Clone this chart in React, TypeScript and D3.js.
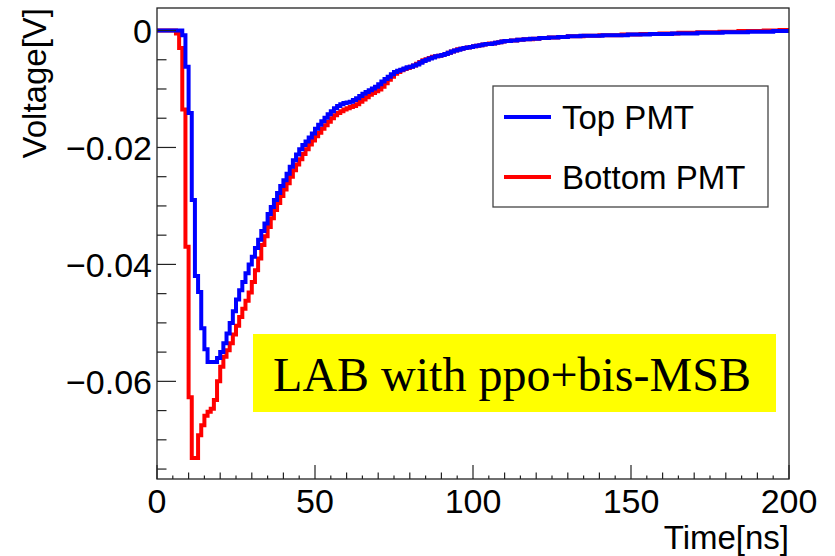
import React from "react";
import * as d3 from "d3";

// Time bins: 1 ns wide, 0..200 ns
const binStart = 0;
const binWidth = 1;

const topPMT: number[] = [
  0, 0, 0, 0, 0, 0, 0, 0, -0.0008, -0.0062,
  -0.0141, -0.029, -0.0420, -0.0447, -0.0509, -0.0545, -0.0567, -0.0567, -0.0567, -0.0560,
  -0.0550, -0.0535, -0.0518, -0.0500, -0.0480, -0.0460, -0.0444, -0.0430, -0.0415, -0.0400,
  -0.0387, -0.0372, -0.0358, -0.0343, -0.0330, -0.0314, -0.0302, -0.0290, -0.0278, -0.0266,
  -0.0256, -0.0245, -0.0233, -0.0222, -0.0212, -0.0203, -0.0196, -0.0190, -0.0183, -0.0176,
  -0.0168, -0.0161, -0.0155, -0.0149, -0.0143, -0.0138, -0.0133, -0.0129, -0.0126, -0.0124,
  -0.0123, -0.0122, -0.0119, -0.0116, -0.0112, -0.0108, -0.0105, -0.0102, -0.0099, -0.0096,
  -0.0092, -0.0087, -0.0083, -0.0079, -0.0075, -0.0071, -0.0069, -0.0067, -0.0065, -0.0063,
  -0.0062, -0.0060, -0.0058, -0.0055, -0.0052, -0.0050, -0.0048, -0.0046, -0.0044, -0.0043,
  -0.0042, -0.0040, -0.0038, -0.0036, -0.0034, -0.0033, -0.0031, -0.0030, -0.0029, -0.0028,
  -0.0027, -0.0026, -0.0025, -0.0024, -0.0023, -0.0023, -0.0022, -0.0021, -0.0020, -0.0019,
  -0.0018, -0.0018, -0.0017, -0.0017, -0.0016, -0.0016, -0.0015, -0.0015, -0.0014, -0.0014,
  -0.0014, -0.0013, -0.0013, -0.0013, -0.0012, -0.0012, -0.0012, -0.0011, -0.0011, -0.0011,
  -0.0010, -0.0010, -0.0010, -0.0010, -0.0009, -0.0009, -0.0009, -0.0009, -0.0009, -0.0009,
  -0.0009, -0.0008, -0.0008, -0.0008, -0.0008, -0.0008, -0.0008, -0.0008, -0.0008, -0.0007,
  -0.0007, -0.0007, -0.0007, -0.0007, -0.0007, -0.0007, -0.0006, -0.0006, -0.0006, -0.0006,
  -0.0006, -0.0006, -0.0006, -0.0005, -0.0005, -0.0005, -0.0005, -0.0005, -0.0005, -0.0005,
  -0.0005, -0.0004, -0.0004, -0.0004, -0.0004, -0.0004, -0.0004, -0.0004, -0.0004, -0.0003,
  -0.0003, -0.0003, -0.0003, -0.0003, -0.0003, -0.0003, -0.0003, -0.0002, -0.0002, -0.0002,
  -0.0002, -0.0002, -0.0002, -0.0002, -0.0002, -0.0001, -0.0001, -0.0001, -0.0001, -0.0001,
];

const bottomPMT: number[] = [
  0, 0, 0, 0, 0, 0, -0.0005, -0.0030, -0.0135, -0.0370,
  -0.0627, -0.0731, -0.0731, -0.0692, -0.0675, -0.0659, -0.0652, -0.0647, -0.0632, -0.0600,
  -0.0575, -0.0558, -0.0547, -0.0535, -0.0520, -0.0505, -0.0490, -0.0476, -0.0462, -0.0448,
  -0.0430, -0.0410, -0.0390, -0.0367, -0.0352, -0.0336, -0.0321, -0.0307, -0.0295, -0.0283,
  -0.0272, -0.0261, -0.0250, -0.0239, -0.0229, -0.0220, -0.0211, -0.0203, -0.0195, -0.0188,
  -0.0181, -0.0175, -0.0168, -0.0162, -0.0156, -0.0150, -0.0145, -0.0141, -0.0138, -0.0135,
  -0.0133, -0.0131, -0.0129, -0.0126, -0.0122, -0.0118, -0.0114, -0.0110, -0.0107, -0.0104,
  -0.0101, -0.0096, -0.0090, -0.0084, -0.0079, -0.0074, -0.0071, -0.0068, -0.0066, -0.0064,
  -0.0062, -0.0060, -0.0057, -0.0054, -0.0051, -0.0049, -0.0047, -0.0045, -0.0044, -0.0043,
  -0.0042, -0.0040, -0.0038, -0.0036, -0.0034, -0.0032, -0.0031, -0.0030, -0.0029, -0.0028,
  -0.0027, -0.0026, -0.0025, -0.0024, -0.0023, -0.0022, -0.0022, -0.0021, -0.0020, -0.0019,
  -0.0018, -0.0018, -0.0017, -0.0017, -0.0016, -0.0016, -0.0015, -0.0015, -0.0015, -0.0014,
  -0.0014, -0.0013, -0.0013, -0.0013, -0.0012, -0.0012, -0.0012, -0.0011, -0.0011, -0.0011,
  -0.0010, -0.0010, -0.0010, -0.0010, -0.0010, -0.0009, -0.0009, -0.0009, -0.0009, -0.0009,
  -0.0008, -0.0008, -0.0008, -0.0008, -0.0008, -0.0008, -0.0008, -0.0007, -0.0007, -0.0007,
  -0.0007, -0.0007, -0.0007, -0.0006, -0.0006, -0.0006, -0.0006, -0.0006, -0.0006, -0.0005,
  -0.0005, -0.0005, -0.0005, -0.0005, -0.0005, -0.0004, -0.0004, -0.0004, -0.0004, -0.0004,
  -0.0004, -0.0003, -0.0003, -0.0003, -0.0003, -0.0003, -0.0003, -0.0003, -0.0002, -0.0002,
  -0.0002, -0.0002, -0.0002, -0.0002, -0.0001, -0.0001, -0.0001, -0.0001, -0.0001, -0.0001,
  -0.0001, -0.0001, 0, 0, 0, 0, 0, 0.0001, 0.0001, 0.0001,
];

const seriesNames = ["Top PMT", "Bottom PMT"];
const seriesColors = ["#0000ff", "#ff0000"];
const xTickLabels = ["0", "50", "100", "150", "200"];
const yTickLabels = ["0", "\u22120.02", "\u22120.04", "\u22120.06"];
const xTitle = "Time[ns]";
const yTitle = "Voltage[V]";
const annotation = "LAB with ppo+bis-MSB";

const W = 835;
const H = 556;
const frame = { left: 157, right: 789, top: 8, bottom: 479 };

export default function App() {
  const x = d3.scaleLinear().domain([0, 200]).range([frame.left, frame.right]);
  const y = d3.scaleLinear().domain([0.00385, -0.0767]).range([frame.top, frame.bottom]);

  const toPoints = (vals: number[]) => {
    const pts: [number, number][] = vals.map((v, i) => [binStart + i * binWidth, v]);
    pts.push([binStart + vals.length * binWidth, vals[vals.length - 1]]);
    return pts;
  };
  const line = d3
    .line<[number, number]>()
    .x((d) => x(d[0]))
    .y((d) => y(d[1]))
    .curve(d3.curveStepAfter);

  const xMinor = d3.range(0, 201, 5);
  const yMinor = d3.range(0, 76, 5).map((k) => -k / 1000);
  const xMajorVals = xTickLabels.map(Number);
  const yMajorVals = [0, -0.02, -0.04, -0.06];

  const font = "'Liberation Sans', Arial, Helvetica, sans-serif";

  return (
    <svg
      width={W}
      height={H}
      style={{ position: "absolute", left: 0, top: 0, background: "#fff" }}
    >
      <rect x={0} y={0} width={W} height={H} fill="#fff" />
      <defs>
        <clipPath id="plotclip">
          <rect
            x={frame.left}
            y={frame.top}
            width={frame.right - frame.left}
            height={frame.bottom - frame.top}
          />
        </clipPath>
      </defs>

      {/* annotation box */}
      <rect x={253} y={334} width={523} height={78} fill="#ffff00" />
      <text
        x={512}
        y={391}
        textAnchor="middle"
        fontFamily="'Liberation Serif', 'Times New Roman', serif"
        fontSize={48}
        fill="#000"
      >
        {annotation}
      </text>

      {/* histograms */}
      <g clipPath="url(#plotclip)">
        <path
          d={line(toPoints(bottomPMT)) || ""}
          fill="none"
          stroke={seriesColors[1]}
          strokeWidth={4}
        />
        <path
          d={line(toPoints(topPMT)) || ""}
          fill="none"
          stroke={seriesColors[0]}
          strokeWidth={4}
        />
      </g>

      {/* frame */}
      <rect
        x={frame.left}
        y={frame.top}
        width={frame.right - frame.left}
        height={frame.bottom - frame.top}
        fill="none"
        stroke="#222"
        strokeWidth={1.3}
      />

      {/* x ticks */}
      {xMinor.map((t) => {
        const len = t % 50 === 0 ? 14 : t % 10 === 0 ? 6.5 : 3.5;
        return (
          <line
            key={"xt" + t}
            x1={x(t)}
            x2={x(t)}
            y1={frame.bottom}
            y2={frame.bottom - len}
            stroke="#222"
            strokeWidth={1.2}
          />
        );
      })}
      {/* y ticks */}
      {yMinor.map((v, i) => {
        const major = i % 4 === 0;
        return (
          <line
            key={"yt" + i}
            x1={frame.left}
            x2={frame.left + (major ? 19 : 9.5)}
            y1={y(v)}
            y2={y(v)}
            stroke="#222"
            strokeWidth={1.2}
          />
        );
      })}

      {/* x tick labels */}
      {xMajorVals.map((t, i) => (
        <text
          key={"xl" + t}
          x={x(t)}
          y={513}
          textAnchor="middle"
          fontFamily={font}
          fontSize={34}
          fill="#000"
        >
          {xTickLabels[i]}
        </text>
      ))}
      {/* y tick labels */}
      {yMajorVals.map((v, i) => (
        <text
          key={"yl" + i}
          x={152}
          y={y(v) + 12.5}
          textAnchor="end"
          fontFamily={font}
          fontSize={34}
          fill="#000"
        >
          {yTickLabels[i]}
        </text>
      ))}

      {/* axis titles */}
      <text
        x={frame.right}
        y={549}
        textAnchor="end"
        fontFamily={font}
        fontSize={33}
        fill="#000"
      >
        {xTitle}
      </text>
      <text
        transform={`translate(46, ${frame.top}) rotate(-90)`}
        textAnchor="end"
        fontFamily={font}
        fontSize={33}
        fill="#000"
      >
        {yTitle}
      </text>

      {/* legend */}
      <rect x={493} y={86} width={275} height={121} fill="#fff" stroke="#444" strokeWidth={1.3} />
      {seriesNames.map((name, i) => {
        const ly = i === 0 ? 117 : 177;
        return (
          <g key={name}>
            <line x1={504} x2={551} y1={ly} y2={ly} stroke={seriesColors[i]} strokeWidth={4} />
            <text x={562} y={ly + 12} fontFamily={font} fontSize={33} fill="#000">
              {name}
            </text>
          </g>
        );
      })}
    </svg>
  );
}
